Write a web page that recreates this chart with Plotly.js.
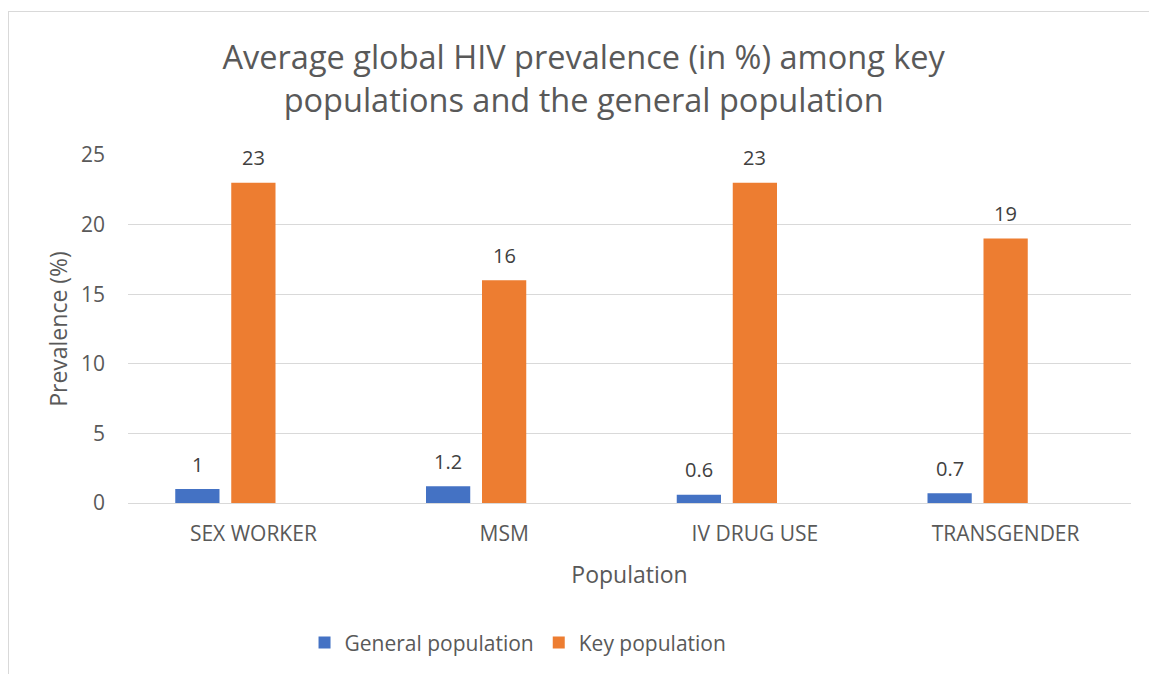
<!DOCTYPE html>
<html>
<head>
<meta charset="utf-8">
<script src="https://cdn.plot.ly/plotly-3.0.1.min.js"></script>
<style>
  html, body { margin: 0; padding: 0; background: #fff; }
  #wrap { position: relative; width: 1149px; height: 674px; }
  #chart { position: absolute; left: 0; top: 0; width: 1149px; height: 674px; }
  #frame { position: absolute; left: 8px; top: 11px; right: 0; bottom: 0;
           border-left: 1px solid #d9d9d9; border-top: 1px solid #d9d9d9; pointer-events: none; }
</style>
</head>
<body>
<div id="wrap">
  <div id="chart"></div>
  <div id="frame"></div>
</div>
<script>
const categories = ['SEX WORKER', 'MSM', 'IV DRUG USE', 'TRANSGENDER'];
const generalPopulation = [1, 1.2, 0.6, 0.7];
const keyPopulation = [23, 16, 23, 19];
const seriesNames = ['General population', 'Key population'];

const FONT = '"Open Sans", Lato, sans-serif';

const W = 1149, H = 674;
const M = { l: 128, r: 18, t: 155, b: 170 };
const BARGAP = 0.33, SLOTS = 3;

const traces = [
  {
    type: 'bar', name: seriesNames[0], x: categories, y: generalPopulation,
    marker: { color: '#4472c4' }, hoverinfo: 'x+y'
  },
  {
    type: 'bar', name: seriesNames[1], x: categories, y: keyPopulation,
    marker: { color: '#ed7d31' }, hoverinfo: 'x+y'
  },
  {
    type: 'bar', name: '', x: categories, y: categories.map(() => null),
    marker: { color: '#a5a5a5' }, showlegend: false, hoverinfo: 'skip'
  }
];

// data labels: centred over each bar, offset by one group slot
const catW = (W - M.l - M.r) / categories.length;
const slot = catW * (1 - BARGAP) / SLOTS;
const labelFont = { family: FONT, size: 20, color: '#404040' };
const annotations = [];
[generalPopulation, keyPopulation].forEach((vals, s) => {
  vals.forEach((v, i) => {
    annotations.push({
      x: categories[i], y: v, xref: 'x', yref: 'y',
      text: String(v), showarrow: false,
      xshift: (s - 1) * slot, yshift: 25,
      yanchor: 'middle', xanchor: 'center',
      font: labelFont
    });
  });
});

const layout = {
  width: W, height: H,
  margin: M,
  paper_bgcolor: 'rgba(0,0,0,0)', plot_bgcolor: '#ffffff',
  font: { family: FONT, color: '#595959' },
  title: {
    text: 'Average global HIV prevalence (in %) among key<br>populations and the general population',
    font: { family: FONT, size: 32.5, color: '#595959' },
    xref: 'container', x: 0.508, xanchor: 'center',
    yref: 'container', y: 0.897, yanchor: 'top'
  },
  barmode: 'group',
  bargap: BARGAP,
  bargroupgap: 0.21,
  annotations: annotations,
  xaxis: {
    type: 'category',
    showgrid: false, showline: false, ticks: '',
    tickfont: { family: FONT, size: 21, color: '#595959' },
    ticklabelstandoff: 16,
    title: { text: 'Population', font: { family: FONT, size: 23, color: '#595959' }, standoff: 20 }
  },
  yaxis: {
    range: [0, 25], dtick: 5, tick0: 0,
    showgrid: true, gridcolor: '#d9d9d9', gridwidth: 1,
    zeroline: true, zerolinecolor: '#d9d9d9', zerolinewidth: 1,
    showline: false, ticks: '',
    tickfont: { family: FONT, size: 21, color: '#595959' },
    ticklabelstandoff: 22,
    title: { text: 'Prevalence (%)', font: { family: FONT, size: 23, color: '#595959' }, standoff: 6 }
  },
  showlegend: true,
  legend: {
    orientation: 'h',
    xref: 'paper', x: 0.176, xanchor: 'left',
    yref: 'paper', y: -0.398, yanchor: 'middle',
    font: { family: FONT, size: 21, color: '#595959' },
    itemwidth: 30,
    traceorder: 'normal',
    bgcolor: 'rgba(0,0,0,0)'
  }
};

Plotly.newPlot('chart', traces, layout, { displayModeBar: false, staticPlot: true });
</script>
</body>
</html>
